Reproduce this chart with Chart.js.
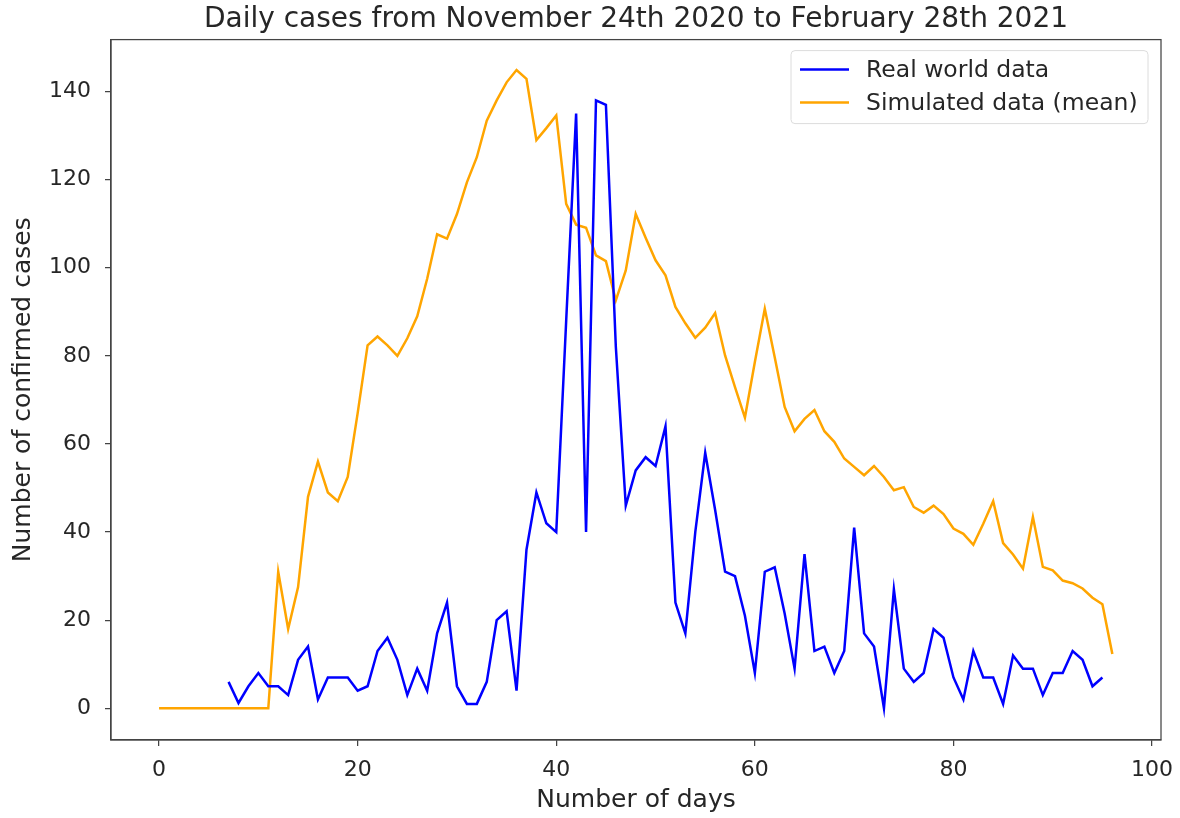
<!DOCTYPE html>
<html>
<head>
<meta charset="utf-8">
<script src="https://cdn.jsdelivr.net/npm/chart.js@4.4.1/dist/chart.umd.min.js"></script>
<style>
  html, body { margin: 0; padding: 0; background: #fff; }
  #chart { display: block; }
</style>
</head>
<body>
<canvas id="chart" width="1180" height="818"></canvas>
<script>
// day index 0..96
const days = [0,1,2,3,4,5,6,7,8,9,10,11,12,13,14,15,16,17,18,19,20,21,22,23,24,25,26,27,28,29,30,31,32,33,34,35,36,37,38,39,40,41,42,43,44,45,46,47,48,49,50,51,52,53,54,55,56,57,58,59,60,61,62,63,64,65,66,67,68,69,70,71,72,73,74,75,76,77,78,79,80,81,82,83,84,85,86,87,88,89,90,91,92,93,94,95,96];

// real world data starts on day 7 and ends on day 95
const realCases = [null,null,null,null,null,null,null,
  6,1.2,5,8,5,5,3,11,14,2,7,7,7,4,5,13,16,11,3,9,4,17,24,5,1,1,6,20,22,4,
  36,49,42,40,88,135,40,138,137,82,46,54,57,55,64,24,17,40,58,45,
  31,30,21,8,31,32,21.5,9,35,13,14,8,13,41,17,14,0,27,9,6,
  8,18,16,7,2,13,7,7,1,12,9,9,3,8,8,13,11,5,7,null];

const simulatedMean = [0,0,0,0,0,0,0,0,0,0,0,0,
  31,18,27.5,48,56,49,47,52.5,67,82.4,84.4,82.4,80,84,89,97.5,107.6,106.6,
  112.2,119.4,125.1,133.4,138,142.1,144.9,142.9,129,131.7,134.6,114.5,109.8,109.1,102.8,101.5,
  92.6,99.4,112.2,106.8,101.7,98.3,91.1,87.4,84.1,86.4,89.7,80.1,72.9,66,78.6,90.7,79.7,68.4,
  62.9,65.7,67.7,62.9,60.5,56.7,54.8,52.9,55,52.5,49.5,50.2,45.7,44.4,46,44.1,
  40.8,39.6,37.1,41.9,47,37.5,34.9,31.7,43.4,32.1,31.3,29,28.4,27.2,25.1,23.6,12.3];

const xTicks = [0, 20, 40, 60, 80, 100];
const yTicks = [0, 20, 40, 60, 80, 100, 120, 140];

Chart.defaults.font.family = "'DejaVu Sans', sans-serif";
Chart.defaults.color = '#262626';

const frame = {
  id: 'frame',
  afterDatasetsDraw(chart) {
    const a = chart.chartArea, ctx = chart.ctx;
    ctx.save();
    ctx.strokeStyle = '#444';
    ctx.lineWidth = 1.25;
    ctx.strokeRect(a.left, a.top, a.right - a.left, a.bottom - a.top);
    ctx.restore();
  }
};

const boxLegend = {
  id: 'boxLegend',
  afterDraw(chart) {
    const a = chart.chartArea, ctx = chart.ctx;
    const w = 357, h = 73;
    const x = a.right - 13 - w, y = a.top + 11;
    ctx.save();
    ctx.beginPath();
    ctx.roundRect(x, y, w, h, 4);
    ctx.fillStyle = 'rgba(255,255,255,0.8)';
    ctx.fill();
    ctx.strokeStyle = '#dcdcdc';
    ctx.lineWidth = 1;
    ctx.stroke();
    ctx.font = "23.5px 'DejaVu Sans'";
    ctx.textBaseline = 'middle';
    chart.data.datasets.forEach((ds, i) => {
      const ly = y + 19 + i * 33;
      ctx.beginPath();
      ctx.moveTo(x + 9, ly);
      ctx.lineTo(x + 58, ly);
      ctx.strokeStyle = ds.borderColor;
      ctx.lineWidth = 2.5;
      ctx.stroke();
      ctx.fillStyle = '#262626';
      ctx.fillText(ds.label, x + 75, ly + 1);
    });
    ctx.restore();
  }
};

new Chart(document.getElementById('chart'), {
  type: 'line',
  data: {
    datasets: [
      {
        label: 'Real world data',
        data: days.map((d, i) => ({ x: d, y: realCases[i] })),
        borderColor: '#0000ff',
        borderWidth: 2.5,
        pointRadius: 0,
        tension: 0,
        spanGaps: false
      },
      {
        label: 'Simulated data (mean)',
        data: days.map((d, i) => ({ x: d, y: simulatedMean[i] })),
        borderColor: '#ffa500',
        borderWidth: 2.5,
        pointRadius: 0,
        tension: 0
      }
    ]
  },
  options: {
    responsive: false,
    devicePixelRatio: 1,
    animation: false,
    layout: { padding: { left: 0, right: 19, top: 0, bottom: 0 } },
    plugins: {
      legend: { display: false },
      tooltip: { enabled: false },
      title: {
        display: true,
        fullSize: false,
        text: 'Daily cases from November 24th 2020 to February 28th 2021',
        color: '#262626',
        font: { size: 28, weight: 'normal', lineHeight: 1.2 },
        padding: { top: 3, bottom: 3 }
      }
    },
    scales: {
      x: {
        type: 'linear',
        min: -4.84,
        max: 100.9,
        afterBuildTicks: s => { s.ticks = xTicks.map(v => ({ value: v })); },
        afterFit: s => { s.height = 78; s.paddingLeft = 0; s.paddingRight = 0; },
        grid: { drawOnChartArea: false, drawTicks: true, tickLength: 6, color: '#444', lineWidth: 1.25 },
        border: { display: true, color: '#444', width: 1.25 },
        ticks: { font: { size: 22 }, padding: 11, color: '#262626', maxRotation: 0 },
        title: { display: true, text: 'Number of days', font: { size: 25 }, color: '#262626', padding: { top: 0, bottom: 3 } }
      },
      y: {
        min: -7.2,
        max: 151.8,
        afterBuildTicks: s => { s.ticks = yTicks.map(v => ({ value: v })); },
        afterFit: s => { s.width = 111; s.paddingTop = 0; s.paddingBottom = 0; },
        grid: { drawOnChartArea: false, drawTicks: true, tickLength: 6, color: '#444', lineWidth: 1.25 },
        border: { display: true, color: '#444', width: 1.25 },
        ticks: { font: { size: 22 }, padding: 14, color: '#262626' },
        title: { display: true, text: 'Number of confirmed cases', font: { size: 25 }, color: '#262626', padding: { top: 8, bottom: 0 } }
      }
    }
  },
  plugins: [frame, boxLegend]
});
</script>
</body>
</html>
